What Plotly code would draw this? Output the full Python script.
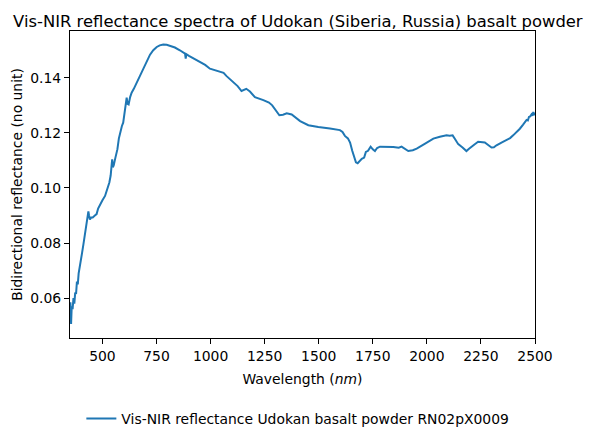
import plotly.graph_objects as go

wavelength_nm = [352, 355, 358, 362, 366, 370, 374, 378, 382, 386, 390, 395, 400, 406, 412, 418, 424, 430, 435, 438, 442, 448, 455, 465, 473, 480, 489, 500, 512, 522, 532, 538, 542, 545, 548, 552, 560, 569, 576, 584, 590, 596, 602, 608, 612, 616, 621, 628, 635, 645, 658, 672, 689, 705, 720, 735, 751, 765, 781, 797, 812, 835, 858, 875, 882, 885, 888, 900, 920, 951, 975, 997, 1020, 1043, 1060, 1074, 1090, 1105, 1125, 1143, 1155, 1165, 1182, 1205, 1244, 1270, 1285, 1300, 1318, 1335, 1352, 1375, 1395, 1414, 1452, 1498, 1552, 1598, 1610, 1621, 1635, 1645, 1655, 1663, 1672, 1680, 1690, 1699, 1710, 1718, 1728, 1740, 1750, 1760, 1770, 1783, 1845, 1870, 1883, 1895, 1914, 1935, 1953, 1990, 2030, 2060, 2091, 2105, 2119, 2130, 2145, 2165, 2183, 2195, 2206, 2220, 2237, 2255, 2268, 2285, 2299, 2310, 2322, 2345, 2368, 2385, 2399, 2415, 2430, 2445, 2455, 2461, 2467, 2472, 2478, 2484, 2488, 2492, 2495, 2500]
reflectance = [0.0585, 0.0506, 0.0570, 0.0560, 0.0600, 0.0580, 0.0620, 0.0615, 0.0660, 0.0650, 0.0690, 0.0710, 0.0740, 0.0765, 0.0795, 0.0825, 0.0850, 0.0880, 0.0915, 0.0900, 0.0885, 0.0893, 0.0893, 0.0900, 0.0905, 0.0925, 0.0941, 0.0955, 0.0971, 0.0995, 0.1020, 0.1045, 0.1100, 0.1104, 0.1075, 0.1082, 0.1110, 0.1140, 0.1180, 0.1213, 0.1225, 0.1237, 0.1270, 0.1300, 0.1328, 0.1305, 0.1303, 0.1330, 0.1346, 0.1360, 0.1382, 0.1408, 0.1436, 0.1462, 0.1484, 0.1500, 0.1512, 0.1518, 0.1521, 0.1520, 0.1517, 0.1510, 0.1500, 0.1492, 0.1488, 0.1470, 0.1486, 0.1480, 0.1471, 0.1460, 0.1447, 0.1433, 0.1428, 0.1424, 0.1418, 0.1406, 0.1395, 0.1382, 0.1370, 0.1352, 0.1358, 0.1360, 0.1350, 0.1330, 0.1319, 0.1310, 0.1300, 0.1285, 0.1264, 0.1266, 0.1271, 0.1267, 0.1253, 0.1243, 0.1228, 0.1221, 0.1216, 0.1210, 0.1203, 0.1189, 0.1180, 0.1165, 0.1135, 0.1112, 0.1093, 0.1090, 0.1098, 0.1106, 0.1110, 0.1131, 0.1135, 0.1150, 0.1140, 0.1134, 0.1145, 0.1150, 0.1149, 0.1146, 0.1150, 0.1143, 0.1134, 0.1137, 0.1143, 0.1160, 0.1179, 0.1186, 0.1191, 0.1190, 0.1191, 0.1178, 0.1159, 0.1147, 0.1134, 0.1142, 0.1150, 0.1158, 0.1168, 0.1167, 0.1165, 0.1155, 0.1147, 0.1148, 0.1155, 0.1165, 0.1173, 0.1181, 0.1191, 0.1203, 0.1215, 0.1230, 0.1240, 0.1247, 0.1245, 0.1258, 0.1260, 0.1267, 0.1262, 0.1276, 0.1265, 0.1273]

x_ticks = [500, 750, 1000, 1250, 1500, 1750, 2000, 2250, 2500]
y_ticks = [0.06, 0.08, 0.10, 0.12, 0.14]

title_text = "Vis-NIR reflectance spectra of Udokan (Siberia, Russia) basalt powder"
series_name = "Vis-NIR reflectance Udokan basalt powder RN02pX0009"

FONT = "DejaVu Sans"
FS = 13.9

fig = go.Figure()
fig.add_trace(go.Scatter(
    x=wavelength_nm, y=reflectance, mode="lines", name=series_name,
    line=dict(color="#1f77b4", width=2),
))

fig.update_layout(
    width=601, height=443,
    margin=dict(l=70, r=66, t=31, b=105, autoexpand=False),
    paper_bgcolor="white", plot_bgcolor="white",
    font=dict(family=FONT, size=FS, color="black"),
    title=dict(text=title_text, x=0.49, xref="paper", xanchor="center",
               y=1 - 21 / 443, yref="container", yanchor="middle",
               font=dict(size=16.4, family=FONT, color="black")),
    showlegend=True,
    legend=dict(orientation="h", x=0.49, xanchor="center", y=-0.264, yanchor="middle",
                font=dict(size=FS, family=FONT, color="black"),
                bgcolor="rgba(0,0,0,0)", itemwidth=30),
)

fig.update_xaxes(
    range=[350, 2500], tickvals=x_ticks, ticktext=[str(v) for v in x_ticks],
    showgrid=False, zeroline=False,
    showline=True, linecolor="black", linewidth=1, mirror=True,
    ticks="outside", ticklen=5, tickcolor="black", tickwidth=1,
    title=dict(text="Wavelength (<i>nm</i>)", standoff=11,
               font=dict(size=FS, family=FONT, color="black")),
)
fig.update_yaxes(
    range=[0.0455, 0.1570], tickvals=y_ticks, ticktext=[f"{v:.2f}" for v in y_ticks],
    showgrid=False, zeroline=False,
    showline=True, linecolor="black", linewidth=1, mirror=True,
    ticks="outside", ticklen=5, tickcolor="black", tickwidth=1,
    title=dict(text="Bidirectional reflectance (no unit)", standoff=4,
               font=dict(size=FS, family=FONT, color="black")),
)

fig.write_html("out.html", config={"displayModeBar": False},
               post_script="document.body.style.margin='0px';")
